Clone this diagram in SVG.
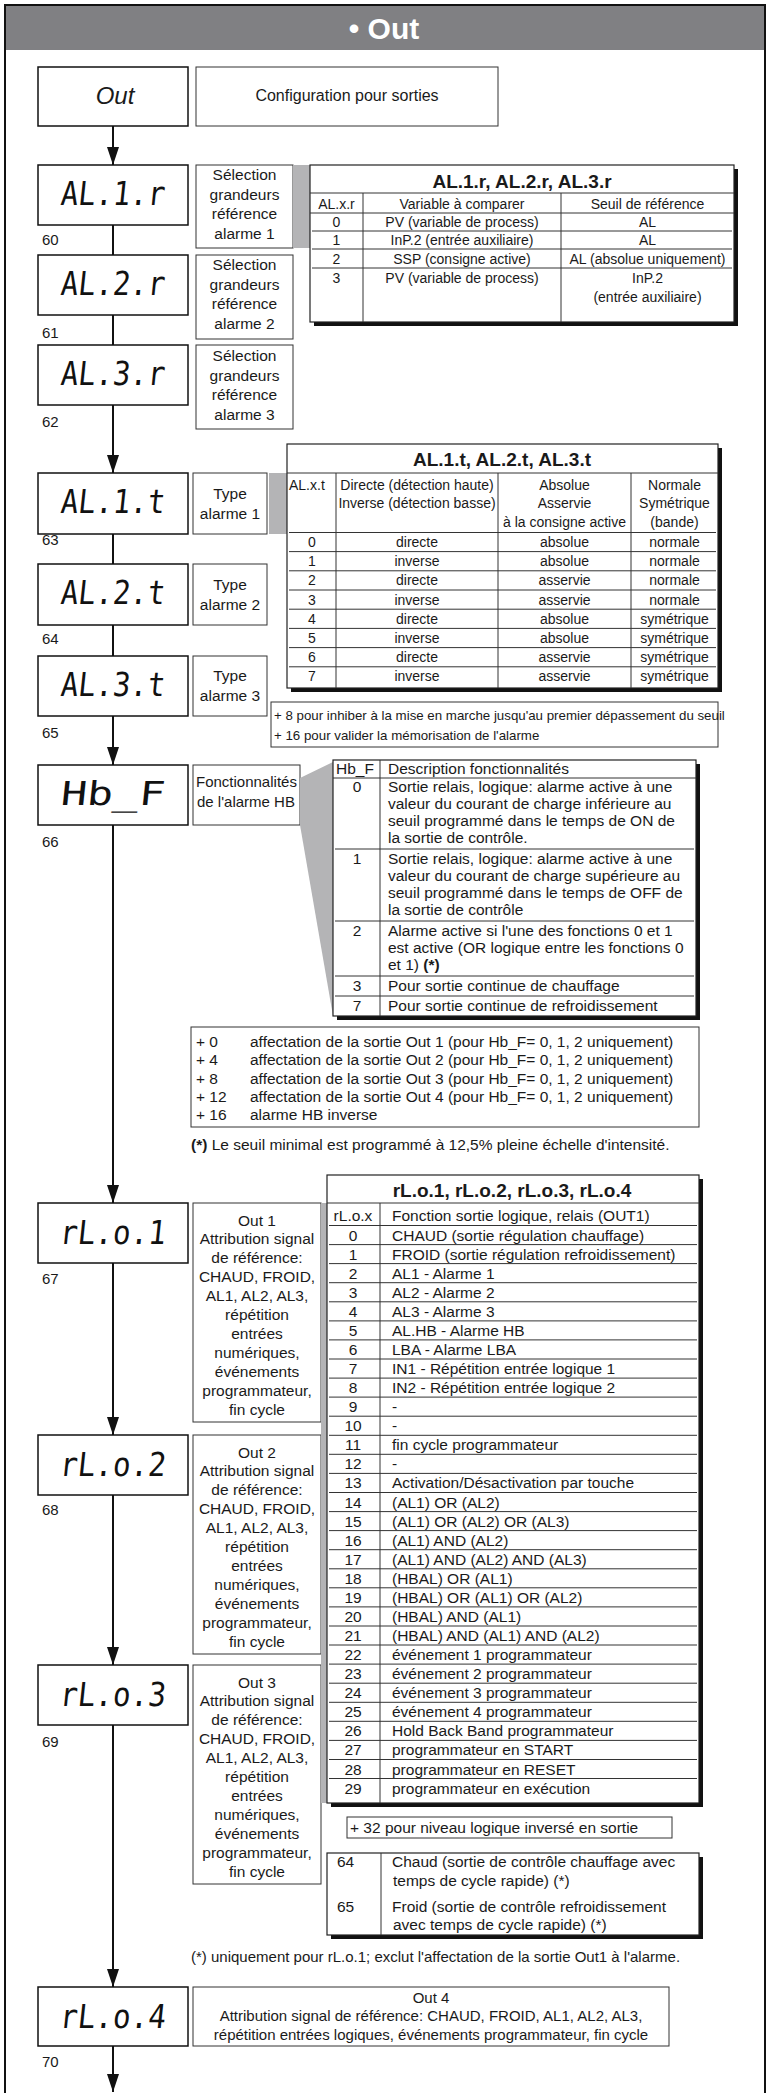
<svg xmlns="http://www.w3.org/2000/svg" width="768" height="2093" viewBox="0 0 768 2093">
<defs>
<style>
text{font-family:"Liberation Sans",Arial,Helvetica,sans-serif;fill:#1a1a1a}
.s{font-size:15.5px}
.m{font-size:14px}
.h{font-size:19px;font-weight:bold}
.c{text-anchor:middle}
.n{font-size:15px}
.disp{font-family:"DejaVu Sans Mono","Liberation Mono",monospace;font-size:33px;text-anchor:middle;fill:#111}
.db{fill:#fff;stroke:#111;stroke-width:1.5}
.sb{fill:#fff;stroke:#333;stroke-width:1}
.tb{fill:#fff;stroke:#222;stroke-width:1.2}
.sh{fill:#111}
.gr{fill:#b4b4b6}
.ln{stroke:#333;stroke-width:1;fill:none}
.con{stroke:#111;stroke-width:2;fill:none}
.ca{stroke:#111;stroke-width:2;fill:none;marker-end:url(#arr)}
</style>
<marker id="arr" viewBox="0 -6 18 12" refX="18" refY="0" markerWidth="18" markerHeight="12" markerUnits="userSpaceOnUse" orient="auto"><path d="M0,-6 L18,0 L0,6 z" fill="#111"/></marker>
</defs>
<rect width="768" height="2093" fill="#fff"/>
<rect x="5" y="5" width="760" height="2100" fill="none" stroke="#111" stroke-width="2"/>
<g id="title">
<rect x="6" y="6" width="758" height="44" fill="#808083"/>
<text x="384" y="39" class="c" style="font-size:30px;font-weight:bold;fill:#fff">• Out</text>
</g>

<g id="connectors">
<line class="ca" x1="113" y1="126" x2="113" y2="165"/>
<line class="con" x1="113" y1="225" x2="113" y2="255"/>
<line class="con" x1="113" y1="315" x2="113" y2="345"/>
<line class="ca" x1="113" y1="405" x2="113" y2="473"/>
<line class="con" x1="113" y1="534" x2="113" y2="564"/>
<line class="con" x1="113" y1="625" x2="113" y2="656"/>
<line class="ca" x1="113" y1="716" x2="113" y2="765"/>
<line class="ca" x1="113" y1="825" x2="113" y2="1203"/>
<line class="ca" x1="113" y1="1263" x2="113" y2="1435"/>
<line class="ca" x1="113" y1="1495" x2="113" y2="1665"/>
<line class="ca" x1="113" y1="1725" x2="113" y2="1987"/>
<line class="ca" x1="113" y1="2046" x2="113" y2="2092"/>
</g>

<g id="n-out">
<rect class="db" x="38" y="67" width="150" height="59"/>
<text x="115" y="104" class="c" style="font-size:24px;font-style:italic">Out</text>
</g>
<g id="n-config">
<rect class="sb" x="196" y="67" width="302" height="59"/>
<text x="347" y="101" class="c" style="font-size:16px">Configuration pour sorties</text>
</g>

<!-- AL.r -->
<g id="n-al1r">
<rect class="db" x="38" y="165" width="150" height="60"/>
<text transform="translate(112,205) skewX(-6)" class="disp" textLength="104" lengthAdjust="spacingAndGlyphs">AL.1.r</text>
<text x="42" y="245" class="n">60</text>
</g>
<g id="n-al1r-desc">
<rect class="sb" x="196" y="165" width="97" height="83"/>
<text class="s c" x="244.5" y="180">Sélection</text>
<text class="s c" x="244.5" y="199.5">grandeurs</text>
<text class="s c" x="244.5" y="219">référence</text>
<text class="s c" x="244.5" y="238.5">alarme 1</text>
</g>
<g id="n-al2r">
<rect class="db" x="38" y="255" width="150" height="60"/>
<text transform="translate(112,295) skewX(-6)" class="disp" textLength="104" lengthAdjust="spacingAndGlyphs">AL.2.r</text>
<text x="42" y="338" class="n">61</text>
</g>
<g id="n-al2r-desc">
<rect class="sb" x="196" y="255" width="97" height="84"/>
<text class="s c" x="244.5" y="270">Sélection</text>
<text class="s c" x="244.5" y="289.5">grandeurs</text>
<text class="s c" x="244.5" y="309">référence</text>
<text class="s c" x="244.5" y="328.5">alarme 2</text>
</g>
<g id="n-al3r">
<rect class="db" x="38" y="345" width="150" height="60"/>
<text transform="translate(112,385) skewX(-6)" class="disp" textLength="104" lengthAdjust="spacingAndGlyphs">AL.3.r</text>
<text x="42" y="427" class="n">62</text>
</g>
<g id="n-al3r-desc">
<rect class="sb" x="196" y="345" width="97" height="84"/>
<text class="s c" x="244.5" y="361">Sélection</text>
<text class="s c" x="244.5" y="380.5">grandeurs</text>
<text class="s c" x="244.5" y="400">référence</text>
<text class="s c" x="244.5" y="419.5">alarme 3</text>
</g>

<g id="t-alr">
<rect class="gr" x="293" y="165" width="17" height="83"/>
<rect class="sh" x="314" y="169" width="424" height="157"/>
<rect class="tb" x="310" y="165" width="424" height="157"/>
<text class="h c" x="522" y="188">AL.1.r, AL.2.r, AL.3.r</text>
<path class="ln" d="M310,193H734M310,213H734M312,231H732M312,249H732M312,268H732M363,193V322M561,193V322"/>
<text class="m c" x="336.5" y="209">AL.x.r</text>
<text class="m c" x="462" y="209">Variable à comparer</text>
<text class="m c" x="647.5" y="209">Seuil de référence</text>
<text class="m c" x="336.5" y="227">0</text>
<text class="m c" x="462" y="227">PV (variable de process)</text>
<text class="m c" x="647.5" y="227">AL</text>
<text class="m c" x="336.5" y="245">1</text>
<text class="m c" x="462" y="245">InP.2 (entrée auxiliaire)</text>
<text class="m c" x="647.5" y="245">AL</text>
<text class="m c" x="336.5" y="264">2</text>
<text class="m c" x="462" y="264">SSP (consigne active)</text>
<text class="m c" x="647.5" y="264">AL (absolue uniquement)</text>
<text class="m c" x="336.5" y="283">3</text>
<text class="m c" x="462" y="283">PV (variable de process)</text>
<text class="m c" x="647.5" y="283">InP.2</text>
<text class="m c" x="647.5" y="302">(entrée auxiliaire)</text>
</g>

<!-- AL.t -->
<g id="n-al1t">
<rect class="db" x="38" y="473" width="150" height="61"/>
<text transform="translate(112,513) skewX(-6)" class="disp" textLength="104" lengthAdjust="spacingAndGlyphs">AL.1.t</text>
<text x="42" y="545" class="n">63</text>
</g>
<g id="n-al1t-desc">
<rect class="sb" x="193" y="473" width="74" height="61"/>
<text class="s c" x="230" y="499">Type</text>
<text class="s c" x="230" y="519">alarme 1</text>
</g>
<g id="n-al2t">
<rect class="db" x="38" y="564" width="150" height="61"/>
<text transform="translate(112,604) skewX(-6)" class="disp" textLength="104" lengthAdjust="spacingAndGlyphs">AL.2.t</text>
<text x="42" y="644" class="n">64</text>
</g>
<g id="n-al2t-desc">
<rect class="sb" x="193" y="564" width="74" height="61"/>
<text class="s c" x="230" y="590">Type</text>
<text class="s c" x="230" y="610">alarme 2</text>
</g>
<g id="n-al3t">
<rect class="db" x="38" y="656" width="150" height="60"/>
<text transform="translate(112,696) skewX(-6)" class="disp" textLength="104" lengthAdjust="spacingAndGlyphs">AL.3.t</text>
<text x="42" y="738" class="n">65</text>
</g>
<g id="n-al3t-desc">
<rect class="sb" x="193" y="656" width="74" height="60"/>
<text class="s c" x="230" y="681">Type</text>
<text class="s c" x="230" y="701">alarme 3</text>
</g>

<g id="t-alt">
<rect class="gr" x="269" y="473" width="18" height="61"/>
<rect class="sh" x="291" y="448" width="431" height="244"/>
<rect class="tb" x="287" y="444" width="431" height="244"/>
<text class="h c" x="502" y="466">AL.1.t, AL.2.t, AL.3.t</text>
<path class="ln" d="M287,473H718M289,532.5H716M289,551.6H716M289,570.8H716M289,590H716M289,609.2H716M289,628.4H716M289,647.6H716M289,666.8H716M336,473V688M498,473V688M631,473V688"/>
<text class="m" x="289" y="490">AL.x.t</text>
<text class="m c" x="417" y="490">Directe (détection haute)</text>
<text class="m c" x="417" y="508">Inverse (détection basse)</text>
<text class="m c" x="564.5" y="490">Absolue</text>
<text class="m c" x="564.5" y="508">Asservie</text>
<text class="m c" x="564.5" y="527">à la consigne active</text>
<text class="m c" x="674.5" y="490">Normale</text>
<text class="m c" x="674.5" y="508">Symétrique</text>
<text class="m c" x="674.5" y="527">(bande)</text>
<text class="m c" x="312" y="547">0</text><text class="m c" x="417" y="547">directe</text><text class="m c" x="564.5" y="547">absolue</text><text class="m c" x="674.5" y="547">normale</text>
<text class="m c" x="312" y="566.2">1</text><text class="m c" x="417" y="566.2">inverse</text><text class="m c" x="564.5" y="566.2">absolue</text><text class="m c" x="674.5" y="566.2">normale</text>
<text class="m c" x="312" y="585.4">2</text><text class="m c" x="417" y="585.4">directe</text><text class="m c" x="564.5" y="585.4">asservie</text><text class="m c" x="674.5" y="585.4">normale</text>
<text class="m c" x="312" y="604.6">3</text><text class="m c" x="417" y="604.6">inverse</text><text class="m c" x="564.5" y="604.6">asservie</text><text class="m c" x="674.5" y="604.6">normale</text>
<text class="m c" x="312" y="623.8">4</text><text class="m c" x="417" y="623.8">directe</text><text class="m c" x="564.5" y="623.8">absolue</text><text class="m c" x="674.5" y="623.8">symétrique</text>
<text class="m c" x="312" y="643">5</text><text class="m c" x="417" y="643">inverse</text><text class="m c" x="564.5" y="643">absolue</text><text class="m c" x="674.5" y="643">symétrique</text>
<text class="m c" x="312" y="662.2">6</text><text class="m c" x="417" y="662.2">directe</text><text class="m c" x="564.5" y="662.2">asservie</text><text class="m c" x="674.5" y="662.2">symétrique</text>
<text class="m c" x="312" y="681.4">7</text><text class="m c" x="417" y="681.4">inverse</text><text class="m c" x="564.5" y="681.4">asservie</text><text class="m c" x="674.5" y="681.4">symétrique</text>
</g>
<g id="note-alt">
<rect class="sb" x="271" y="702" width="447" height="45"/>
<text x="274" y="720" style="font-size:13.3px">+ 8 pour inhiber à la mise en marche jusqu'au premier dépassement du seuil</text>
<text x="274" y="740" style="font-size:13.3px">+ 16 pour valider la mémorisation de l'alarme</text>
</g>

<!-- Hb_F -->
<g id="n-hbf">
<rect class="db" x="38" y="765" width="150" height="60"/>
<text transform="translate(112,805) skewX(-6)" class="disp" textLength="104" lengthAdjust="spacingAndGlyphs">Hb_F</text>
<text x="42" y="847" class="n">66</text>
</g>
<g id="n-hbf-desc">
<rect class="sb" x="193" y="765" width="107" height="60"/>
<text x="196" y="787" style="font-size:15px">Fonctionnalités</text>
<text x="197" y="807" style="font-size:15px">de l'alarme HB</text>
</g>
<g id="t-hbf">
<polygon class="gr" points="300,778 333,762 333,1016 300,825"/>
<rect class="sh" x="337" y="764" width="363" height="256"/>
<rect class="tb" x="333" y="760" width="363" height="256"/>
<path class="ln" d="M333,778H696M335,849H694M335,921H694M335,976H694M335,996H694M380,760V1016"/>
<text class="s" x="336" y="774">Hb_F</text>
<text class="s" x="388" y="774">Description fonctionnalités</text>
<text class="s c" x="357" y="792">0</text>
<text class="s" x="388" y="792">Sortie relais, logique: alarme active à une</text>
<text class="s" x="388" y="809">valeur du courant de charge inférieure au</text>
<text class="s" x="388" y="826">seuil programmé dans le temps de ON de</text>
<text class="s" x="388" y="843">la sortie de contrôle.</text>
<text class="s c" x="357" y="864">1</text>
<text class="s" x="388" y="864">Sortie relais, logique: alarme active à une</text>
<text class="s" x="388" y="881">valeur du courant de charge supérieure au</text>
<text class="s" x="388" y="898">seuil programmé dans le temps de OFF de</text>
<text class="s" x="388" y="915">la sortie de contrôle</text>
<text class="s c" x="357" y="936">2</text>
<text class="s" x="388" y="936">Alarme active si l'une des fonctions 0 et 1</text>
<text class="s" x="388" y="953">est active (OR logique entre les fonctions 0</text>
<text class="s" x="388" y="970">et 1) <tspan font-weight="bold">(*)</tspan></text>
<text class="s c" x="357" y="991">3</text>
<text class="s" x="388" y="991">Pour sortie continue de chauffage</text>
<text class="s c" x="357" y="1011">7</text>
<text class="s" x="388" y="1011">Pour sortie continue de refroidissement</text>
</g>
<g id="note-hbf">
<rect class="sb" x="191" y="1027" width="508" height="100"/>
<text class="s" x="196" y="1047">+ 0</text><text class="s" x="250" y="1047">affectation de la sortie Out 1 (pour Hb_F= 0, 1, 2 uniquement)</text>
<text class="s" x="196" y="1065.3">+ 4</text><text class="s" x="250" y="1065.3">affectation de la sortie Out 2 (pour Hb_F= 0, 1, 2 uniquement)</text>
<text class="s" x="196" y="1083.5">+ 8</text><text class="s" x="250" y="1083.5">affectation de la sortie Out 3 (pour Hb_F= 0, 1, 2 uniquement)</text>
<text class="s" x="196" y="1101.8">+ 12</text><text class="s" x="250" y="1101.8">affectation de la sortie Out 4 (pour Hb_F= 0, 1, 2 uniquement)</text>
<text class="s" x="196" y="1120">+ 16</text><text class="s" x="250" y="1120">alarme HB inverse</text>
</g>
<g id="footnote-hbf">
<text class="s" x="191" y="1150"><tspan font-weight="bold">(*)</tspan> Le seuil minimal est programmé à 12,5% pleine échelle d'intensité.</text>
</g>

<!-- rL.o -->
<g id="n-rlo1">
<rect class="db" x="38" y="1203" width="150" height="60"/>
<text transform="translate(112,1244) skewX(-6)" class="disp" textLength="106" lengthAdjust="spacingAndGlyphs">rL.o.1</text>
<text x="42" y="1284" class="n">67</text>
</g>
<g id="n-rlo1-desc">
<rect class="sb" x="193" y="1203" width="128" height="219"/>
<text class="s c" x="257" y="1225.5">Out 1</text>
<text class="s c" x="257" y="1244.4">Attribution signal</text>
<text class="s c" x="257" y="1263.3">de référence:</text>
<text class="s c" x="257" y="1282.2">CHAUD, FROID,</text>
<text class="s c" x="257" y="1301.1">AL1, AL2, AL3,</text>
<text class="s c" x="257" y="1320">répétition</text>
<text class="s c" x="257" y="1338.9">entrées</text>
<text class="s c" x="257" y="1357.8">numériques,</text>
<text class="s c" x="257" y="1376.7">événements</text>
<text class="s c" x="257" y="1395.6">programmateur,</text>
<text class="s c" x="257" y="1414.5">fin cycle</text>
</g>
<g id="n-rlo2">
<rect class="db" x="38" y="1435" width="150" height="60"/>
<text transform="translate(112,1476) skewX(-6)" class="disp" textLength="106" lengthAdjust="spacingAndGlyphs">rL.o.2</text>
<text x="42" y="1515" class="n">68</text>
</g>
<g id="n-rlo2-desc">
<rect class="sb" x="193" y="1435" width="128" height="219"/>
<text class="s c" x="257" y="1457.5">Out 2</text>
<text class="s c" x="257" y="1476.4">Attribution signal</text>
<text class="s c" x="257" y="1495.3">de référence:</text>
<text class="s c" x="257" y="1514.2">CHAUD, FROID,</text>
<text class="s c" x="257" y="1533.1">AL1, AL2, AL3,</text>
<text class="s c" x="257" y="1552">répétition</text>
<text class="s c" x="257" y="1570.9">entrées</text>
<text class="s c" x="257" y="1589.8">numériques,</text>
<text class="s c" x="257" y="1608.7">événements</text>
<text class="s c" x="257" y="1627.6">programmateur,</text>
<text class="s c" x="257" y="1646.5">fin cycle</text>
</g>
<g id="n-rlo3">
<rect class="db" x="38" y="1665" width="150" height="60"/>
<text transform="translate(112,1706) skewX(-6)" class="disp" textLength="106" lengthAdjust="spacingAndGlyphs">rL.o.3</text>
<text x="42" y="1747" class="n">69</text>
</g>
<g id="n-rlo3-desc">
<rect class="sb" x="193" y="1665" width="128" height="219"/>
<text class="s c" x="257" y="1687.5">Out 3</text>
<text class="s c" x="257" y="1706.4">Attribution signal</text>
<text class="s c" x="257" y="1725.3">de référence:</text>
<text class="s c" x="257" y="1744.2">CHAUD, FROID,</text>
<text class="s c" x="257" y="1763.1">AL1, AL2, AL3,</text>
<text class="s c" x="257" y="1782">répétition</text>
<text class="s c" x="257" y="1800.9">entrées</text>
<text class="s c" x="257" y="1819.8">numériques,</text>
<text class="s c" x="257" y="1838.7">événements</text>
<text class="s c" x="257" y="1857.6">programmateur,</text>
<text class="s c" x="257" y="1876.5">fin cycle</text>
</g>

<g id="t-rlo">
<rect class="gr" x="321" y="1203" width="6" height="600"/>
<rect class="sh" x="331" y="1179" width="372" height="628"/>
<rect class="tb" x="327" y="1175" width="372" height="628"/>
<text class="h c" x="512" y="1197">rL.o.1, rL.o.2, rL.o.3, rL.o.4</text>
<path class="ln" d="M327,1203H699M329,1225.5H697M329,1244.6H697M329,1263.6H697M329,1282.7H697M329,1301.8H697M329,1320.9H697M329,1339.9H697M329,1359H697M329,1378.1H697M329,1397.1H697M329,1416.2H697M329,1435.3H697M329,1454.3H697M329,1473.4H697M329,1492.5H697M329,1511.6H697M329,1530.6H697M329,1549.7H697M329,1568.8H697M329,1587.8H697M329,1606.9H697M329,1626H697M329,1645H697M329,1664.1H697M329,1683.2H697M329,1702.3H697M329,1721.3H697M329,1740.4H697M329,1759.5H697M329,1778.5H697M380,1203V1803"/>
<text class="s c" x="353" y="1221">rL.o.x</text>
<text class="s" x="392" y="1221">Fonction sortie logique, relais (OUT1)</text>
<text class="s c" x="353" y="1240.5">0</text><text class="s" x="392" y="1240.5">CHAUD (sortie régulation chauffage)</text>
<text class="s c" x="353" y="1259.6">1</text><text class="s" x="392" y="1259.6">FROID (sortie régulation refroidissement)</text>
<text class="s c" x="353" y="1278.6">2</text><text class="s" x="392" y="1278.6">AL1 - Alarme 1</text>
<text class="s c" x="353" y="1297.7">3</text><text class="s" x="392" y="1297.7">AL2 - Alarme 2</text>
<text class="s c" x="353" y="1316.8">4</text><text class="s" x="392" y="1316.8">AL3 - Alarme 3</text>
<text class="s c" x="353" y="1335.9">5</text><text class="s" x="392" y="1335.9">AL.HB - Alarme HB</text>
<text class="s c" x="353" y="1354.9">6</text><text class="s" x="392" y="1354.9">LBA - Alarme LBA</text>
<text class="s c" x="353" y="1374">7</text><text class="s" x="392" y="1374">IN1 - Répétition entrée logique 1</text>
<text class="s c" x="353" y="1393.1">8</text><text class="s" x="392" y="1393.1">IN2 - Répétition entrée logique 2</text>
<text class="s c" x="353" y="1412.1">9</text><text class="s" x="392" y="1412.1">-</text>
<text class="s c" x="353" y="1431.2">10</text><text class="s" x="392" y="1431.2">-</text>
<text class="s c" x="353" y="1450.3">11</text><text class="s" x="392" y="1450.3">fin cycle programmateur</text>
<text class="s c" x="353" y="1469.3">12</text><text class="s" x="392" y="1469.3">-</text>
<text class="s c" x="353" y="1488.4">13</text><text class="s" x="392" y="1488.4">Activation/Désactivation par touche</text>
<text class="s c" x="353" y="1507.5">14</text><text class="s" x="392" y="1507.5">(AL1) OR (AL2)</text>
<text class="s c" x="353" y="1526.6">15</text><text class="s" x="392" y="1526.6">(AL1) OR (AL2) OR (AL3)</text>
<text class="s c" x="353" y="1545.6">16</text><text class="s" x="392" y="1545.6">(AL1) AND (AL2)</text>
<text class="s c" x="353" y="1564.7">17</text><text class="s" x="392" y="1564.7">(AL1) AND (AL2) AND (AL3)</text>
<text class="s c" x="353" y="1583.8">18</text><text class="s" x="392" y="1583.8">(HBAL) OR (AL1)</text>
<text class="s c" x="353" y="1602.8">19</text><text class="s" x="392" y="1602.8">(HBAL) OR (AL1) OR (AL2)</text>
<text class="s c" x="353" y="1621.9">20</text><text class="s" x="392" y="1621.9">(HBAL) AND (AL1)</text>
<text class="s c" x="353" y="1641">21</text><text class="s" x="392" y="1641">(HBAL) AND (AL1) AND (AL2)</text>
<text class="s c" x="353" y="1660">22</text><text class="s" x="392" y="1660">événement 1 programmateur</text>
<text class="s c" x="353" y="1679.1">23</text><text class="s" x="392" y="1679.1">événement 2 programmateur</text>
<text class="s c" x="353" y="1698.2">24</text><text class="s" x="392" y="1698.2">événement 3 programmateur</text>
<text class="s c" x="353" y="1717.3">25</text><text class="s" x="392" y="1717.3">événement 4 programmateur</text>
<text class="s c" x="353" y="1736.3">26</text><text class="s" x="392" y="1736.3">Hold Back Band programmateur</text>
<text class="s c" x="353" y="1755.4">27</text><text class="s" x="392" y="1755.4">programmateur en START</text>
<text class="s c" x="353" y="1774.5">28</text><text class="s" x="392" y="1774.5">programmateur en RESET</text>
<text class="s c" x="353" y="1793.5">29</text><text class="s" x="392" y="1793.5">programmateur en exécution</text>
</g>
<g id="note-rlo">
<rect class="sb" x="347" y="1817" width="325" height="21"/>
<text class="s" x="350" y="1833">+ 32 pour niveau logique inversé en sortie</text>
</g>
<g id="t-rlo-fast">
<rect class="sh" x="331" y="1857" width="372" height="82"/>
<rect class="tb" x="327" y="1853" width="372" height="82"/>
<path class="ln" d="M381,1853V1935"/>
<text class="s" x="337" y="1867">64</text>
<text class="s" x="392" y="1867">Chaud (sortie de contrôle chauffage avec</text>
<text class="s" x="393" y="1886">temps de cycle rapide) (*)</text>
<text class="s" x="337" y="1912">65</text>
<text class="s" x="392" y="1912">Froid (sortie de contrôle refroidissement</text>
<text class="s" x="393" y="1930">avec temps de cycle rapide) (*)</text>
</g>
<g id="footnote-rlo">
<text x="191" y="1962" style="font-size:15px">(*) uniquement pour rL.o.1; exclut l'affectation de la sortie Out1 à l'alarme.</text>
</g>
<g id="n-rlo4">
<rect class="db" x="38" y="1987" width="150" height="59"/>
<text transform="translate(112,2028) skewX(-6)" class="disp" textLength="106" lengthAdjust="spacingAndGlyphs">rL.o.4</text>
<text x="42" y="2067" class="n">70</text>
</g>
<g id="n-rlo4-desc">
<rect class="sb" x="193" y="1987" width="476" height="59"/>
<text class="c" x="431" y="2003" style="font-size:15px">Out 4</text>
<text class="c" x="431" y="2021" style="font-size:15px">Attribution signal de référence: CHAUD, FROID, AL1, AL2, AL3,</text>
<text class="c" x="431" y="2040" style="font-size:15px">répétition entrées logiques, événements programmateur, fin cycle</text>
</g>
</svg>
